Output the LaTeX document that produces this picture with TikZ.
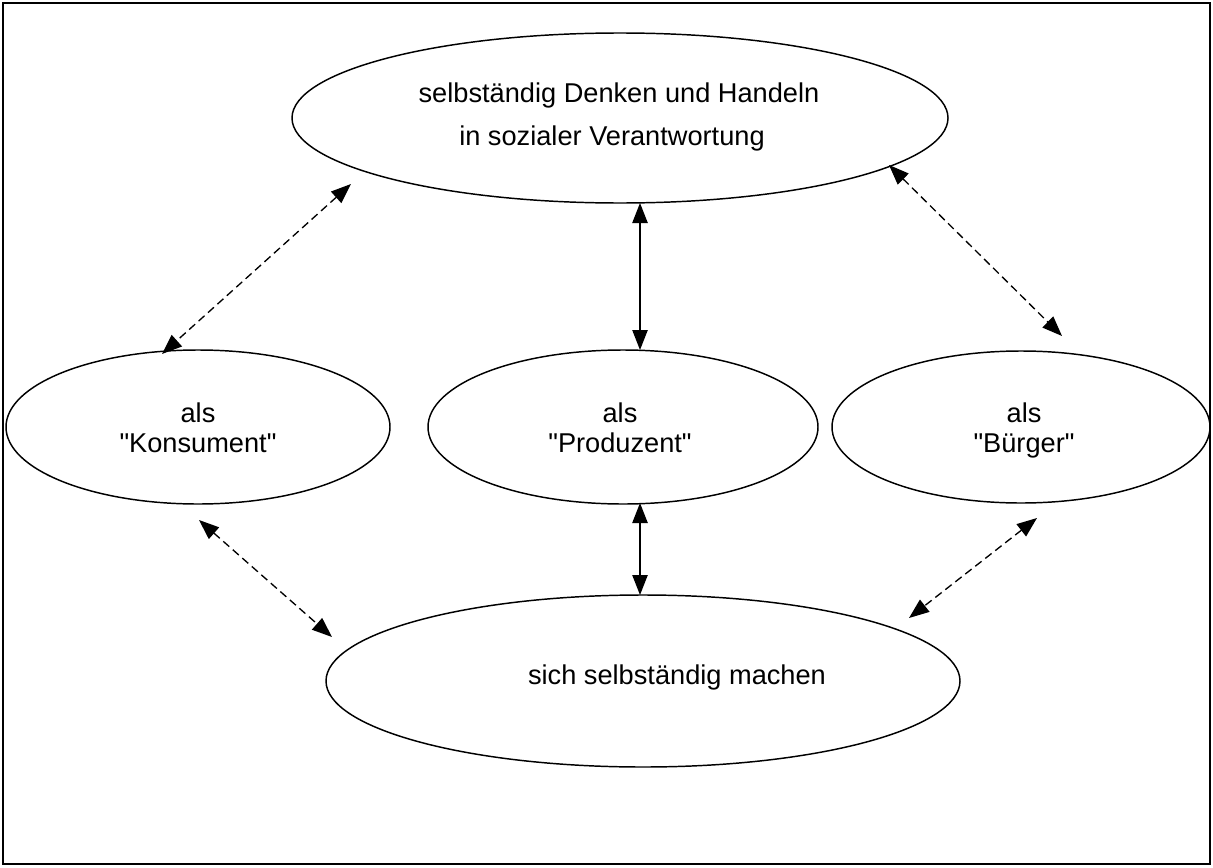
\documentclass[tikz,border=0pt]{standalone}
\usepackage{fontspec}
\setmainfont{Liberation Sans}[Ligatures=TeXOff]
\usetikzlibrary{shapes.geometric,arrows.meta}
\begin{document}
\begin{tikzpicture}[x=0.75pt,y=-0.75pt,
  oval/.style={draw, ellipse, line width=1.1pt, inner sep=0pt},
  lbl/.style={anchor=base, inner sep=0pt, font=\fontsize{20.4}{24}\selectfont},
  link/.style={line width=1pt, {Triangle[length=15pt,width=11.5pt]}-{Triangle[length=15pt,width=11.5pt]}},
  dlink/.style={link, dash pattern=on 6pt off 3.5pt}]
\useasboundingbox (0,0) rectangle (1213,867);
\draw[line width=1pt] (3,3) rectangle (1210,864);
% ellipses
\node[oval, minimum width=492pt, minimum height=127.5pt] (top) at (620,118) {};
\node[oval, minimum width=288pt, minimum height=115.5pt] (kons) at (198,427) {};
\node[oval, minimum width=292.5pt, minimum height=115.5pt] (prod) at (623,427) {};
\node[oval, minimum width=283.5pt, minimum height=114pt] (buerg) at (1021,427) {};
\node[oval, minimum width=475.5pt, minimum height=129pt] (bottom) at (643,681) {};
% texts
\node[lbl] (t1) at (619,103) {selbständig Denken und Handeln};
\node[lbl] (t2) at (612,145) {in sozialer Verantwortung};
\node[lbl] (k1) at (198,422) {als};
\node[lbl] (k2) at (198,452) {"Konsument"};
\node[lbl] (p1) at (620,422) {als};
\node[lbl] (p2) at (620,452) {"Produzent"};
\node[lbl] (b1) at (1024,422) {als};
\node[lbl] (b2) at (1024,452) {"Bürger"};
\node[lbl] (s1) at (677,684) {sich selbständig machen};
% connector ends
\coordinate (a1) at (351,184); \coordinate (a2) at (162,354);
\coordinate (b1e) at (889,165); \coordinate (b2e) at (1062,336);
\coordinate (c1) at (640,203); \coordinate (c2) at (640,350);
\coordinate (d1) at (640,503); \coordinate (d2) at (640,595);
\coordinate (e1) at (199,520); \coordinate (e2) at (332,637);
\coordinate (f1) at (1037,518); \coordinate (f2) at (909,618);
% connectors
\draw[dlink] (a1) -- (a2);
\draw[dlink] (b1e) -- (b2e);
\draw[link] (c1) -- (c2);
\draw[link] (d1) -- (d2);
\draw[dlink] (e1) -- (e2);
\draw[dlink] (f1) -- (f2);
\end{tikzpicture}
\end{document}
